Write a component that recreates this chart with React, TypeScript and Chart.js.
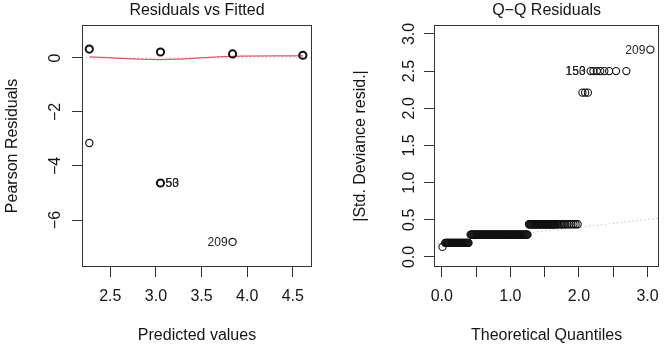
import React, { useEffect, useRef } from 'react';
import { Chart, registerables } from 'chart.js';

Chart.register(...registerables);

const FONT = '"Liberation Sans", Arial, Helvetica, sans-serif';
const INK = '#151515';
const FRAME = '#333333';

// ---- Residuals vs Fitted ----
const fittedValues = [2.27, 2.27, 3.05, 3.05, 3.84, 3.84, 4.61];
const pearsonResiduals = [0.33, -3.15, 0.22, -4.63, 0.15, -6.81, 0.1];
const obsAtPoint = [12, 1, 12, 2, 12, 1, 12];
const smoothFitted = [2.27, 3.05, 3.84, 4.61];
const smoothResidual = [0.04, -0.06, 0.06, 0.08];
const fittedLabelText = ['209', '50', '53'];
const fittedLabelX = [3.84, 3.05, 3.05];
const fittedLabelY = [-6.81, -4.63, -4.63];
const fittedRange = [2.19, 4.71];
const residualRange = [-7.74, 1.22];
const fittedTicks = [2.5, 3.0, 3.5, 4.0, 4.5];
const residualTicks = [-6, -4, -2, 0];

// ---- Q-Q Residuals (half-normal) ----
const qqLevels = [0.135, 0.19, 0.3, 0.44, 2.21, 2.5, 2.79];
const qqQuantilesByLevel = [
  [0.01],
  [
    0.05, 0.06, 0.07, 0.08, 0.09, 0.1, 0.11, 0.12, 0.13, 0.14, 0.15, 0.16, 0.17, 0.18, 0.19, 0.2, 0.21, 0.22,
    0.23, 0.24, 0.25, 0.26, 0.27, 0.28, 0.29, 0.3, 0.31, 0.32, 0.33, 0.34, 0.35, 0.36, 0.37, 0.38, 0.39,
  ],
  [
    0.42, 0.43, 0.44, 0.45, 0.46, 0.47, 0.48, 0.49, 0.5, 0.51, 0.52, 0.53, 0.54, 0.55, 0.56, 0.57, 0.58, 0.59,
    0.6, 0.61, 0.62, 0.63, 0.64, 0.65, 0.66, 0.67, 0.68, 0.69, 0.7, 0.71, 0.72, 0.73, 0.74, 0.75, 0.76, 0.77,
    0.78, 0.79, 0.8, 0.81, 0.82, 0.83, 0.84, 0.85, 0.86, 0.87, 0.88, 0.89, 0.9, 0.91, 0.92, 0.93, 0.94, 0.95,
    0.96, 0.97, 0.98, 0.99, 1.0, 1.01, 1.02, 1.03, 1.04, 1.05, 1.06, 1.07, 1.08, 1.09, 1.1, 1.11, 1.12, 1.13,
    1.14, 1.15, 1.16, 1.17, 1.18, 1.19, 1.2, 1.21, 1.22, 1.23, 1.24, 1.25,
  ],
  [
    1.27, 1.28, 1.29, 1.3, 1.31, 1.32, 1.33, 1.34, 1.35, 1.36, 1.37, 1.38, 1.39, 1.4, 1.41, 1.42, 1.43, 1.44,
    1.45, 1.46, 1.47, 1.48, 1.49, 1.5, 1.51, 1.52, 1.53, 1.54, 1.55, 1.56, 1.57, 1.58, 1.59, 1.6, 1.61, 1.62,
    1.63, 1.64, 1.65, 1.66, 1.68, 1.7, 1.72, 1.74, 1.76, 1.78, 1.8, 1.83, 1.86, 1.89, 1.92, 1.95, 1.98,
  ],
  [2.05, 2.09, 2.13],
  [2.17, 2.21, 2.26, 2.31, 2.37, 2.44, 2.54, 2.69],
  [3.04],
];
const qqLineX = [-0.114, 3.17];
const qqLineY = [0.178, 0.523];
const qqLabelText = ['209', '150', '153'];
const qqLabelX = [3.04, 2.17, 2.17];
const qqLabelY = [2.79, 2.5, 2.5];
const quantileRange = [-0.114, 3.17];
const absResidRange = [-0.135, 3.12];
const quantileTicks = [0, 0.5, 1, 1.5, 2, 2.5, 3];
const absResidTicks = [0, 0.5, 1, 1.5, 2, 2.5, 3];

const HEIGHT = 345;

// Caption centred over the plotting region
const panelTitle = {
  id: 'panelTitle',
  afterDraw(chart: any, _args: any, opts: any) {
    const { ctx, chartArea } = chart;
    ctx.save();
    ctx.font = `16px ${FONT}`;
    ctx.fillStyle = INK;
    ctx.textAlign = 'center';
    ctx.textBaseline = 'middle';
    ctx.fillText(opts.text, (chartArea.left + chartArea.right) / 2, 11);
    ctx.restore();
  },
};

// Box around the plotting region
const plotBox = {
  id: 'plotBox',
  afterDraw(chart: any) {
    const { ctx, chartArea } = chart;
    const l = Math.round(chartArea.left) + 0.5;
    const t = Math.round(chartArea.top) + 0.5;
    const r = Math.round(chartArea.right) - 0.5;
    const b = Math.round(chartArea.bottom) - 0.5;
    ctx.save();
    ctx.strokeStyle = FRAME;
    ctx.lineWidth = 1;
    ctx.strokeRect(l, t, r - l, b - t);
    ctx.restore();
  },
};

// Observation ids beside the most extreme points: left of points in the
// right half of the range, right of points in the left half
const pointLabels = {
  id: 'pointLabels',
  afterDatasetsDraw(chart: any, _args: any, opts: any) {
    const { ctx } = chart;
    const xs = chart.scales.x;
    const ys = chart.scales.y;
    ctx.save();
    ctx.font = `12px ${FONT}`;
    ctx.fillStyle = '#222';
    ctx.textBaseline = 'middle';
    opts.text.forEach((t: string, i: number) => {
      const px = xs.getPixelForValue(opts.x[i]);
      const py = ys.getPixelForValue(opts.y[i]) + 1;
      if (opts.x[i] > opts.mid) {
        ctx.textAlign = 'right';
        ctx.fillText(t, px - 5, py);
      } else {
        ctx.textAlign = 'left';
        ctx.fillText(t, px + 5, py);
      }
    });
    ctx.restore();
  },
};

function makeAxis(o: {
  horizontal: boolean;
  range: number[];
  ticks: number[];
  fmt: (v: number) => string;
  title: string;
  size: number;
  tickPad: number;
  titlePad: any;
}) {
  return {
    type: 'linear',
    min: o.range[0],
    max: o.range[1],
    afterBuildTicks: (s: any) => {
      s.ticks = o.ticks.map((v) => ({ value: v }));
    },
    afterFit: (s: any) => {
      if (o.horizontal) s.height = o.size;
      else s.width = o.size;
    },
    grid: { drawOnChartArea: false, drawTicks: true, tickLength: 10, color: FRAME, lineWidth: 1 },
    border: { display: false },
    ticks: {
      autoSkip: false,
      padding: o.tickPad,
      color: INK,
      font: { size: 16, family: FONT },
      callback: (v: any) => o.fmt(Number(v)),
      ...(o.horizontal
        ? { maxRotation: 0, minRotation: 0 }
        : { minRotation: 90, maxRotation: 90, crossAlign: 'center' }),
    },
    title: {
      display: true,
      text: o.title,
      color: INK,
      font: { size: 16, family: FONT },
      padding: o.titlePad,
    },
  };
}

const minus = (v: number) => (v < 0 ? '\u2212' + Math.abs(v) : String(v));

function fittedConfig(): any {
  return {
    type: 'scatter',
    data: {
      datasets: [
        {
          data: fittedValues.map((x, i) => ({ x, y: pearsonResiduals[i] })),
          pointStyle: 'circle',
          pointRadius: 3.6,
          pointBorderWidth: obsAtPoint.map((n) => (n > 1 ? 2 : 1.2)),
          pointBorderColor: '#111',
          pointBackgroundColor: 'rgba(0,0,0,0)',
          showLine: false,
        },
        {
          data: smoothFitted.map((x, i) => ({ x, y: smoothResidual[i] })),
          showLine: true,
          borderColor: '#DF536B',
          borderWidth: 1.3,
          tension: 0.4,
          pointRadius: 0,
        },
        {
          data: fittedRange.map((x) => ({ x, y: 0 })),
          showLine: true,
          borderColor: '#b0b0b0',
          borderWidth: 1,
          borderDash: [1, 3],
          pointRadius: 0,
        },
      ],
    },
    options: {
      animation: false,
      responsive: false,
      devicePixelRatio: 1,
      layout: { padding: { top: 25, right: 22, left: 0, bottom: 0 } },
      plugins: {
        legend: { display: false },
        tooltip: { enabled: false },
        panelTitle: { text: 'Residuals vs Fitted' },
        pointLabels: {
          text: fittedLabelText,
          x: fittedLabelX,
          y: fittedLabelY,
          mid: (Math.min(...fittedValues) + Math.max(...fittedValues)) / 2,
        },
      },
      scales: {
        x: makeAxis({
          horizontal: true,
          range: fittedRange,
          ticks: fittedTicks,
          fmt: (v) => v.toFixed(1),
          title: 'Predicted values',
          size: 78,
          tickPad: 10,
          titlePad: { top: 0, bottom: 0 },
        }),
        y: makeAxis({
          horizontal: false,
          range: residualRange,
          ticks: residualTicks,
          fmt: minus,
          title: 'Pearson Residuals',
          size: 82,
          tickPad: 7,
          titlePad: { top: 3, bottom: 0 },
        }),
      },
    },
    plugins: [panelTitle, plotBox, pointLabels],
  };
}

function qqConfig(): any {
  const pts: { x: number; y: number }[] = [];
  qqQuantilesByLevel.forEach((xs, li) => xs.forEach((x) => pts.push({ x, y: qqLevels[li] })));
  return {
    type: 'scatter',
    data: {
      datasets: [
        {
          data: pts,
          pointStyle: 'circle',
          pointRadius: 3.6,
          pointBorderWidth: 1.1,
          pointBorderColor: '#111',
          pointBackgroundColor: 'rgba(0,0,0,0)',
          showLine: false,
        },
        {
          data: qqLineX.map((x, i) => ({ x, y: qqLineY[i] })),
          showLine: true,
          borderColor: '#b0b0b0',
          borderWidth: 1,
          borderDash: [1, 3],
          pointRadius: 0,
        },
      ],
    },
    options: {
      animation: false,
      responsive: false,
      devicePixelRatio: 1,
      layout: { padding: { top: 25, right: 6, left: 0, bottom: 0 } },
      plugins: {
        legend: { display: false },
        tooltip: { enabled: false },
        panelTitle: { text: 'Q\u2212Q Residuals' },
        pointLabels: { text: qqLabelText, x: qqLabelX, y: qqLabelY, mid: 1.5 },
      },
      scales: {
        x: makeAxis({
          horizontal: true,
          range: quantileRange,
          ticks: quantileTicks,
          fmt: (v) => (Math.abs(v - Math.round(v)) < 1e-9 ? v.toFixed(1) : ''),
          title: 'Theoretical Quantiles',
          size: 78,
          tickPad: 10,
          titlePad: { top: 0, bottom: 0 },
        }),
        y: makeAxis({
          horizontal: false,
          range: absResidRange,
          ticks: absResidTicks,
          fmt: (v) => v.toFixed(1),
          title: '|Std. Deviance resid.|',
          size: 100,
          tickPad: 3,
          titlePad: { top: 17, bottom: 0 },
        }),
      },
    },
    plugins: [panelTitle, plotBox, pointLabels],
  };
}

function Panel({ width, build }: { width: number; build: () => any }) {
  const ref = useRef<HTMLCanvasElement | null>(null);
  useEffect(() => {
    if (!ref.current) return;
    const chart = new Chart(ref.current, build());
    return () => chart.destroy();
  }, [build]);
  return <canvas ref={ref} width={width} height={HEIGHT} style={{ display: 'block', width, height: HEIGHT }} />;
}

export default function App() {
  return (
    <div
      style={{
        position: 'fixed',
        left: 0,
        top: 0,
        width: 669,
        height: HEIGHT,
        background: '#ffffff',
        display: 'flex',
        flexDirection: 'row',
      }}
    >
      <Panel width={334} build={fittedConfig} />
      <Panel width={335} build={qqConfig} />
    </div>
  );
}
